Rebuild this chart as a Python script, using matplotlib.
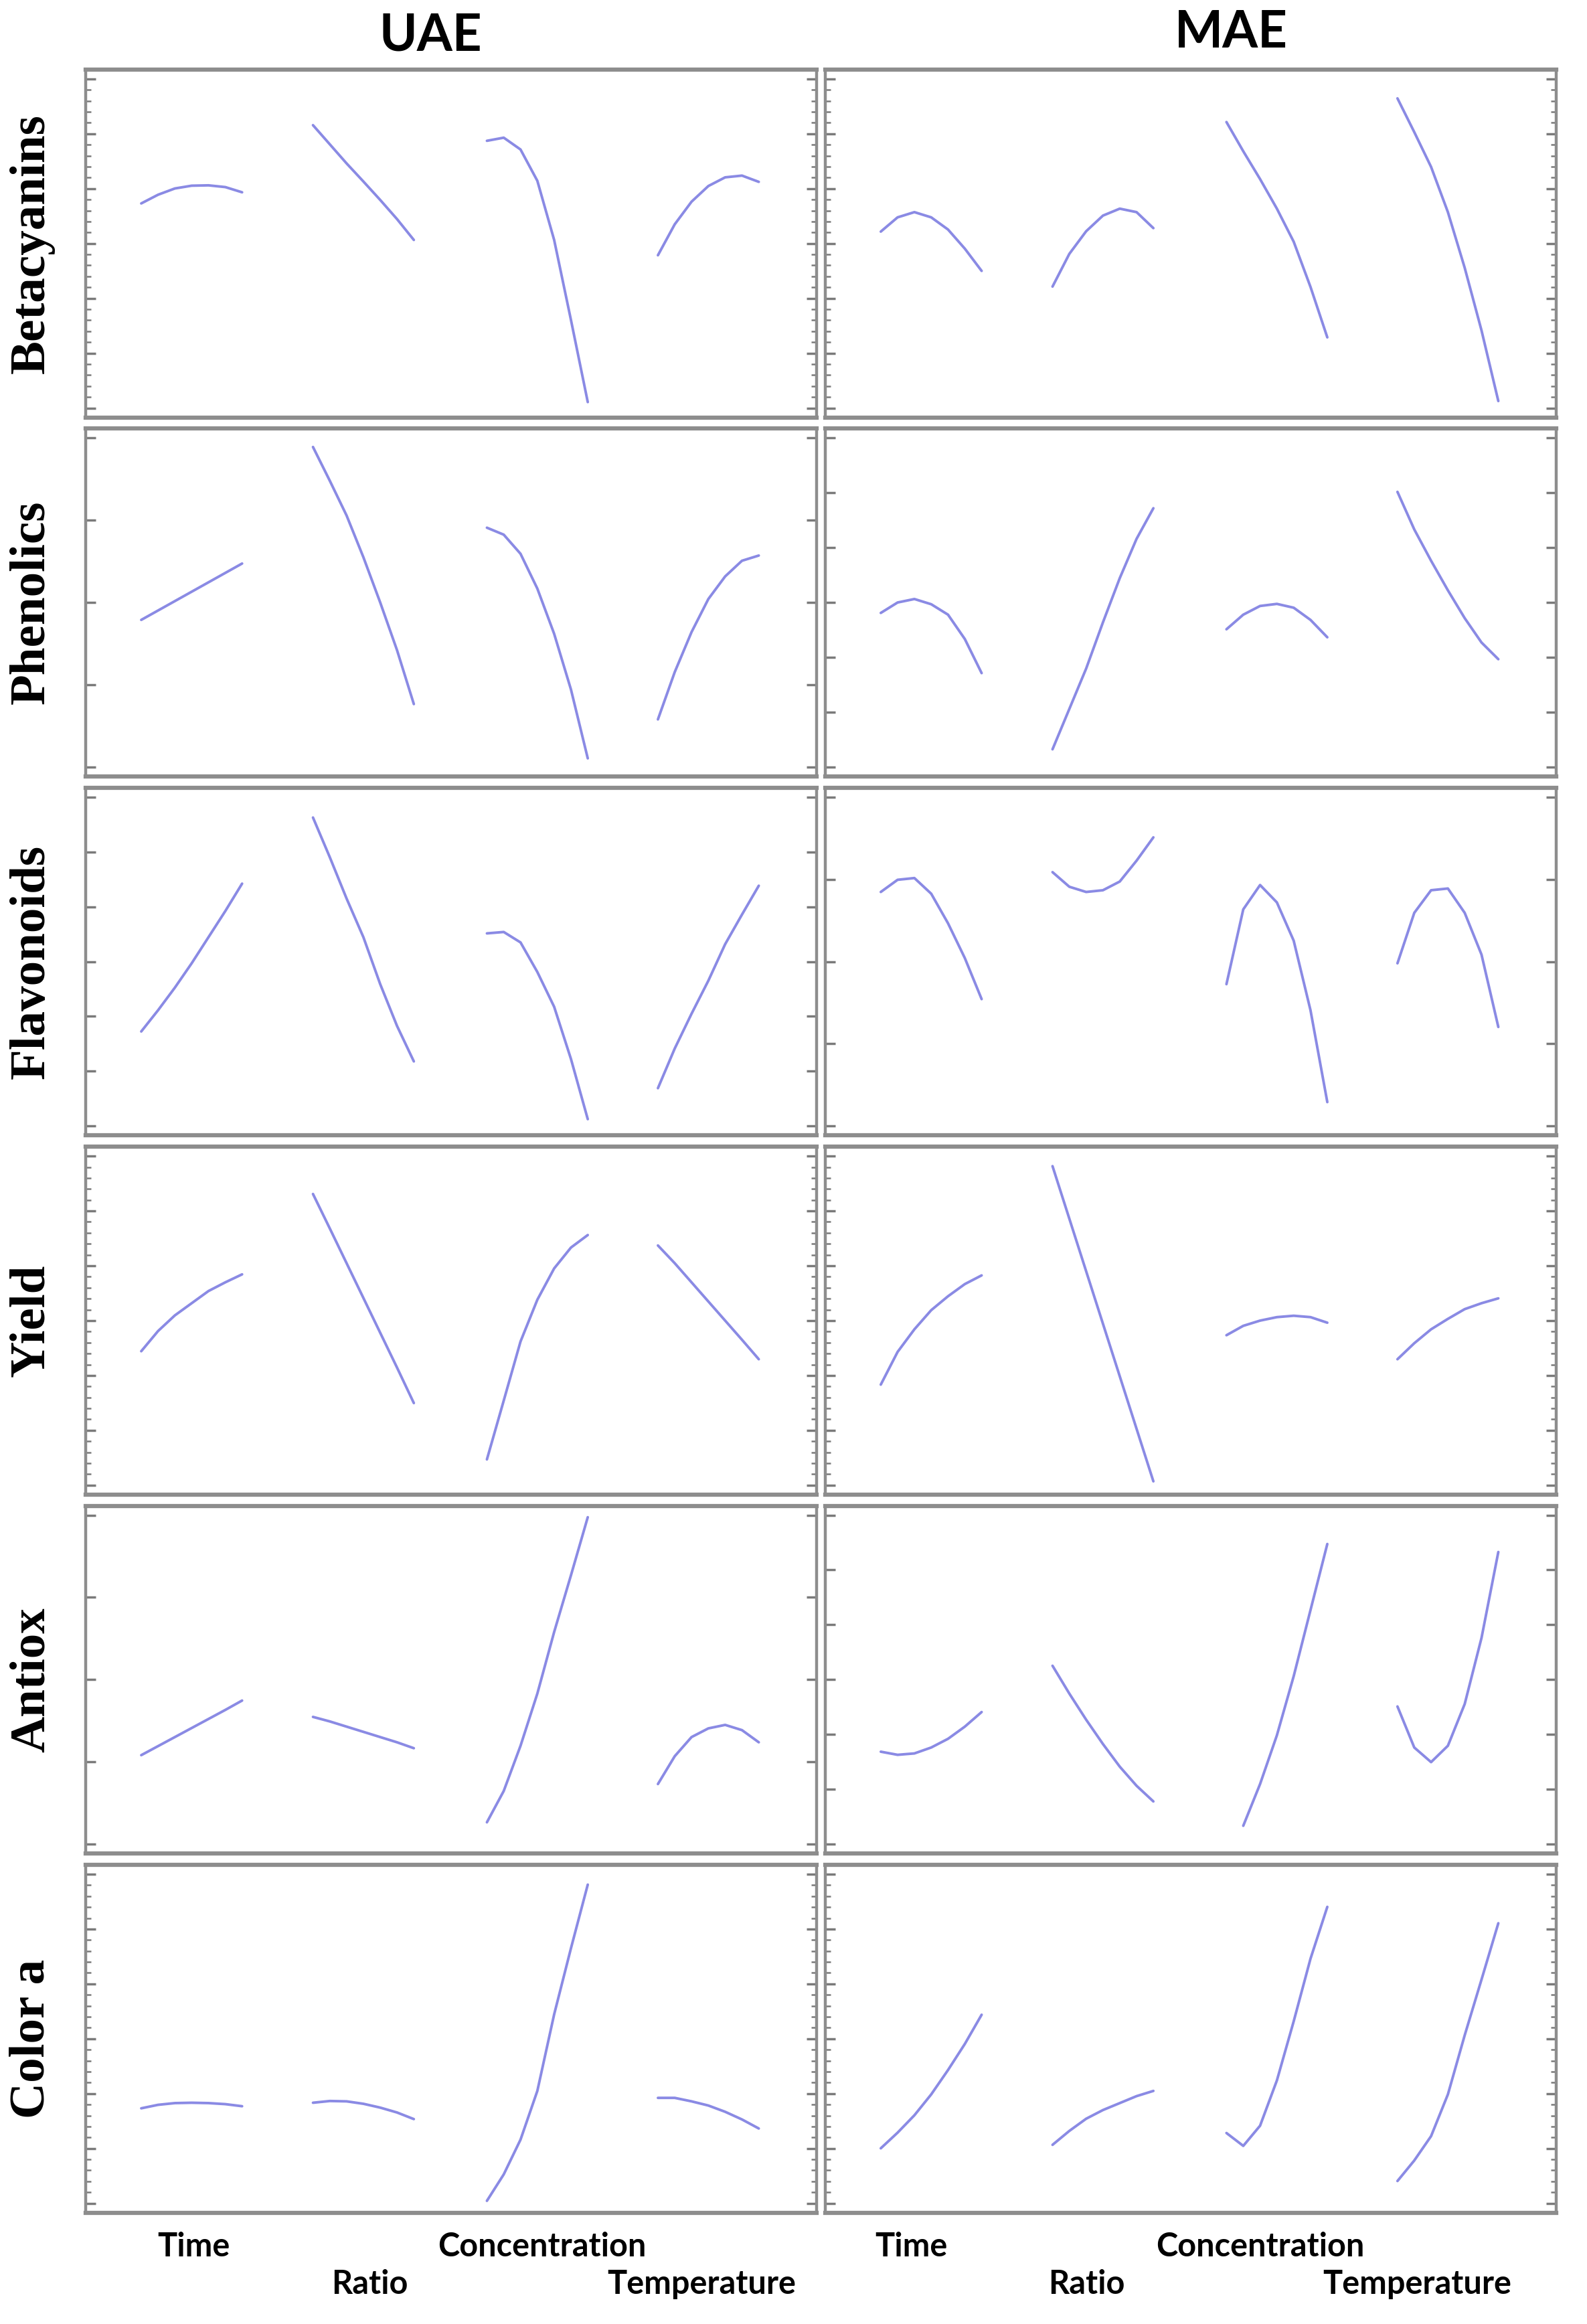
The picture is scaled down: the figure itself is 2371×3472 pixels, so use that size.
import numpy as np
import matplotlib
matplotlib.use("Agg")
from matplotlib import pyplot as plt

# coded factor levels (-1 .. +1) at which every response curve is read
levels = [-1, -2/3, -1/3, 0, 1/3, 2/3, 1]
factors = ["Time", "Ratio", "Concentration", "Temperature"]
responses = ["Betacyanins", "Phenolics", "Flavonoids", "Yield", "Antiox", "Color a"]
methods = ["UAE", "MAE"]

# response values (as % of the plotted range), one list per factor: Time, Ratio, Concentration, Temperature
uae_betacyanins = [[61.5, 64, 65.8, 66.6, 66.7, 66.2, 64.7],
                   [84, 78.5, 73, 67.8, 62.5, 57, 51],
                   [79.5, 80.4, 77, 68, 51, 28, 4.4],
                   [46.6, 55.5, 62, 66.5, 69, 69.5, 67.7]]
uae_phenolics = [[45, 47.7, 50.4, 53.1, 55.8, 58.5, 61.2],
                 [94.7, 85, 75, 63, 50, 36.3, 20.8],
                 [71.5, 69.5, 64, 54, 41, 25, 5.2],
                 [16.4, 30, 41.5, 51, 57.5, 62, 63.5]]
uae_flavonoids = [[29.9, 36, 42.5, 49.5, 57, 64.5, 72.4],
                  [91.4, 80, 68.1, 57, 43.5, 31.5, 21.3],
                  [58.1, 58.5, 55.5, 47, 37, 22, 4.7],
                  [13.6, 25, 35, 44.5, 55, 63.5, 71.8]]
uae_yield = [[41.2, 47, 51.5, 55, 58.5, 61, 63.3],
             [86.4, 76.5, 66.5, 56.5, 46.5, 36.5, 26.3],
             [10.1, 27, 44, 56, 65, 71, 74.6],
             [71.6, 66.5, 61, 55.5, 50, 44.5, 38.9]]
uae_antiox = [[28.3, 30.9, 33.5, 36.1, 38.7, 41.3, 44],
              [39.3, 38, 36.5, 35, 33.5, 32, 30.3],
              [9, 18, 31, 46, 63.7, 80, 96.7],
              [20, 28, 33.5, 36, 37, 35.5, 32]]
uae_color_a = [[30, 31, 31.5, 31.6, 31.5, 31.2, 30.6],
               [31.6, 32.1, 32, 31.3, 30.2, 28.8, 26.9],
               [3.4, 11, 21, 35, 57, 76, 94.3],
               [33, 33, 32, 30.8, 29, 26.8, 24.2]]

mae_betacyanins = [[53.4, 57.5, 59, 57.5, 54, 48.5, 42.1],
                   [37.6, 47, 53.5, 58, 60, 59, 54.4],
                   [84.9, 76.5, 68.5, 60, 50.5, 37.5, 23],
                   [91.7, 82, 72, 59, 43, 25, 4.7]]
mae_phenolics = [[47, 50, 51, 49.5, 46.5, 39.5, 29.7],
                 [7.8, 19.4, 31, 44.3, 57, 68.3, 77.1],
                 [42.3, 46.5, 49, 49.6, 48.5, 45, 40],
                 [81.8, 71, 62, 53.5, 45.5, 38.5, 33.7]]
mae_flavonoids = [[70, 73.5, 74, 69.5, 61, 51, 39.2],
                  [75.7, 71.5, 70, 70.5, 73, 79, 85.7],
                  [43.5, 65, 72, 67, 56, 36, 9.6],
                  [49.5, 64, 70.5, 71, 64, 52, 31.2]]
mae_yield = [[31.6, 41, 47.5, 53, 57, 60.5, 63],
             [94.4, 79.3, 64.2, 49.1, 34, 18.9, 3.8],
             [45.8, 48.5, 50, 51, 51.4, 51, 49.4],
             [38.9, 43.5, 47.5, 50.5, 53.3, 55, 56.4]]
mae_antiox = [[29.3, 28.4, 28.8, 30.5, 33, 36.5, 40.7],
              [54, 46, 38.5, 31.5, 25, 19.5, 15],
              [None, 8, 20, 34, 51, 70, 89],
              [42.3, 30.5, 26.3, 31, 43, 62, 86.7]]
mae_color_a = [[18.5, 23, 28, 34, 41, 48.5, 56.9],
               [19.5, 23.5, 27, 29.5, 31.5, 33.5, 35],
               [22.9, 19.2, 25, 38, 55, 73, 87.9],
               [9.1, 15, 22, 34, 51, 67, 83.2]]

uae = [uae_betacyanins, uae_phenolics, uae_flavonoids, uae_yield, uae_antiox, uae_color_a]
mae = [mae_betacyanins, mae_phenolics, mae_flavonoids, mae_yield, mae_antiox, mae_color_a]

# --- layout ---
block_start = [0.076, 0.311, 0.549, 0.783]  # where each factor's curve begins inside a panel
block_w = 0.138
panel_left = [0.054, 0.520]
panel_w = 0.4605
row_h = 0.1497
# number of major tick intervals and whether dense minor ticks are shown
tick_style = {"UAE": [(6, True), (4, False), (6, False), (6, True), (4, False), (6, True)],
              "MAE": [(6, True), (6, False), (4, False), (6, True), (6, False), (6, True)]}

line_col = "#8a8ae4"
frame_col = "#8d8d8d"

fig = plt.figure(figsize=(23.71, 34.72), dpi=100)

for col, (meth, data) in enumerate(zip(methods, [uae, mae])):
    for row in range(6):
        bottom = 0.8204 - row * 0.1545
        ax = fig.add_axes([panel_left[col], bottom, panel_w, row_h])
        for k in range(4):
            x = [block_start[k] + (l + 1) / 2 * block_w for l in levels]
            y = [np.nan if v is None else v for v in data[row][k]]
            ax.plot(x, y, color=line_col, lw=2.8, solid_joinstyle="round",
                    solid_capstyle="round")
        ax.set_xlim(0, 1)
        ax.set_ylim(0, 100)
        n, dense = tick_style[meth][row]
        ax.set_yticks(np.linspace(2.7, 97.3, n + 1))
        if dense:
            ax.set_yticks(np.linspace(2.7, 97.3, 5 * n + 1), minor=True)
        ax.set_xticks([])
        ax.tick_params(axis="y", which="both", direction="in", left=True, right=True,
                       labelleft=False, color="#7a7a7a")
        ax.tick_params(axis="y", which="major", length=11, width=2.5)
        ax.tick_params(axis="y", which="minor", length=6, width=1.8)
        for sp in ax.spines.values():
            sp.set_color(frame_col)
            sp.set_linewidth(3.2)
        ax.spines["top"].set_linewidth(4.5)
        ax.spines["bottom"].set_linewidth(4.5)

        if col == 0:
            fig.text(0.020, bottom + row_h / 2, responses[row], rotation=90,
                     ha="center", va="center", fontsize=54, fontweight="bold",
                     family=["Liberation Serif", "DejaVu Serif"])

# column titles
fig.text(0.2715, 0.9847, "UAE", ha="center", va="center", fontsize=55,
         fontweight="bold", family=["Lato", "DejaVu Sans"])
fig.text(0.7757, 0.9860, "MAE", ha="center", va="center", fontsize=55,
         fontweight="bold", family=["Lato", "DejaVu Sans"])

# factor names under each column (staggered in two lines)
label_x = {"UAE": [0.1219, 0.2328, 0.3416, 0.4420],
           "MAE": [0.5740, 0.6845, 0.7940, 0.8930]}
label_y = [0.0334, 0.0170, 0.0334, 0.0170]
for meth in methods:
    for k, f in enumerate(factors):
        fig.text(label_x[meth][k], label_y[k], f, ha="center", va="center",
                 fontsize=35, fontweight="bold", family=["Lato", "DejaVu Sans"])

fig.savefig("out.png", dpi=100, facecolor="white")
